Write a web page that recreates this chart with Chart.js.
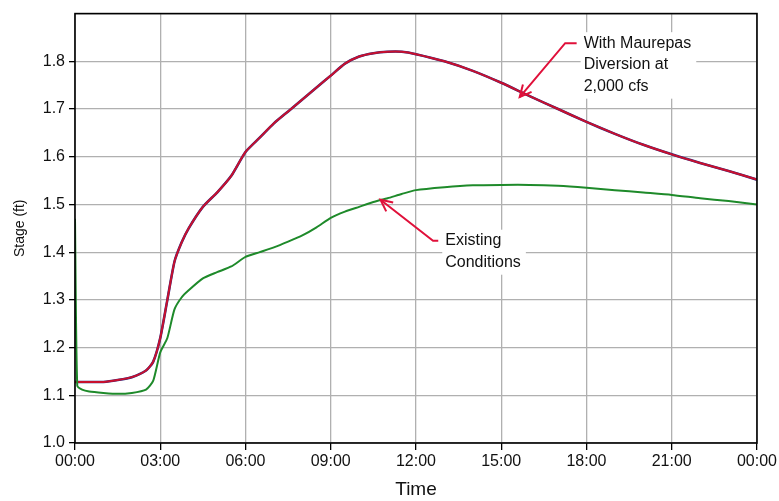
<!DOCTYPE html>
<html>
<head>
<meta charset="utf-8">
<script src="https://cdn.jsdelivr.net/npm/chart.js@4"></script>
<style>
  html, body { margin: 0; padding: 0; background: #fff; }
  #wrap { width: 779px; height: 501px; }
</style>
</head>
<body>
<div id="wrap"><canvas id="stageChart"></canvas></div>
<script>
// hours since 00:00
const hours = [0, 0.08, 0.25, 0.5, 1, 1.5, 2, 2.5, 2.75, 3, 3.25, 3.5, 3.75, 4, 4.5, 5, 5.5, 6, 6.5, 7, 7.5, 8, 8.5, 9, 9.5, 10, 10.5, 11, 11.5, 12, 13, 14, 15, 16, 17, 18, 19, 20, 21, 22, 23, 24];
const withDiversion = [1.128, 1.128, 1.128, 1.128, 1.128, 1.132, 1.138, 1.152, 1.17, 1.22, 1.30, 1.38, 1.42, 1.45, 1.495, 1.525, 1.56, 1.61, 1.64, 1.67, 1.695, 1.72, 1.745, 1.77, 1.795, 1.81, 1.817, 1.82, 1.82, 1.815, 1.80, 1.78, 1.755, 1.727, 1.70, 1.673, 1.648, 1.625, 1.605, 1.587, 1.57, 1.552];
const existing = [1.47, 1.12, 1.112, 1.108, 1.105, 1.103, 1.105, 1.112, 1.13, 1.19, 1.22, 1.28, 1.305, 1.32, 1.345, 1.358, 1.37, 1.39, 1.40, 1.41, 1.422, 1.435, 1.452, 1.472, 1.485, 1.495, 1.505, 1.513, 1.522, 1.53, 1.536, 1.54, 1.541, 1.541, 1.539, 1.535, 1.53, 1.525, 1.52, 1.513, 1.507, 1.50];
const xTicks = ['00:00', '03:00', '06:00', '09:00', '12:00', '15:00', '18:00', '21:00', '00:00'];

function pts(vals) {
    return hours.map((h, i) => ({ x: h, y: vals[i] }));
}

// labels with arrows: text lines, text position (hours, stage), arrow tip
const notes = [
    { lines: ['With Maurepas', 'Diversion at', '2,000 cfs'], at: [17.9, 1.838], elbow: [17.25, 1.838], tip: [15.65, 1.725] },
    { lines: ['Existing', 'Conditions'], at: [13.03, 1.424], elbow: [12.6, 1.424], tip: [10.75, 1.51] },
];

const annotate = {
    id: 'annotate',
    afterDraw(chart) {
        const ctx = chart.ctx;
        const xs = chart.scales.x, ys = chart.scales.y;
        const a = chart.chartArea;
        ctx.save();
        // frame
        ctx.strokeStyle = '#000';
        ctx.lineWidth = 1.6;
        ctx.strokeRect(a.left, a.top, a.right - a.left, a.bottom - a.top);
        ctx.font = '16px "Liberation Sans", Arial, sans-serif';
        ctx.textBaseline = 'middle';
        notes.forEach(n => {
            const tx = xs.getPixelForValue(n.at[0]);
            const ty = ys.getPixelForValue(n.at[1]);
            const lh = 21.5;
            let w = 0;
            n.lines.forEach(l => { w = Math.max(w, ctx.measureText(l).width); });
            ctx.fillStyle = '#fff';
            ctx.fillRect(tx - 3, ty - 11, w + 8, lh * n.lines.length + 2);
            ctx.fillStyle = '#111';
            n.lines.forEach((l, i) => ctx.fillText(l, tx, ty + i * lh));
            // arrow
            const ex = xs.getPixelForValue(n.elbow[0]);
            const px = xs.getPixelForValue(n.tip[0]);
            const py = ys.getPixelForValue(n.tip[1]);
            ctx.strokeStyle = '#e0103a';
            ctx.lineWidth = 2;
            ctx.beginPath();
            ctx.moveTo(tx - 7, ty);
            ctx.lineTo(ex, ty);
            ctx.lineTo(px, py);
            ctx.stroke();
            const ang = Math.atan2(py - ty, px - ex);
            ctx.beginPath();
            ctx.moveTo(px - 13 * Math.cos(ang - 0.45), py - 13 * Math.sin(ang - 0.45));
            ctx.lineTo(px, py);
            ctx.lineTo(px - 13 * Math.cos(ang + 0.45), py - 13 * Math.sin(ang + 0.45));
            ctx.stroke();
        });
        ctx.restore();
    }
};

new Chart(document.getElementById('stageChart'), {
    type: 'line',
    data: {
        datasets: [
            {
                label: 'Existing Conditions',
                data: pts(existing),
                borderColor: '#1e8a2a',
                borderWidth: 2,
                pointRadius: 0,
                tension: 0.2,
                fill: false,
            },
            {
                label: 'With Maurepas Diversion',
                data: pts(withDiversion),
                borderColor: '#c8102e',
                borderWidth: 2,
                pointRadius: 0,
                tension: 0.2,
                fill: false,
            },
            {
                label: 'With Maurepas Diversion (blue)',
                data: pts(withDiversion),
                borderColor: '#2b2a80',
                borderWidth: 2.6,
                pointRadius: 0,
                tension: 0.2,
                fill: false,
            },
        ],
    },
    options: {
        responsive: true,
        maintainAspectRatio: false,
        animation: false,
        layout: { padding: { top: 10, right: 22, left: 0, bottom: 0 } },
        plugins: {
            legend: { display: false },
            tooltip: { enabled: false },
        },
        scales: {
            x: {
                type: 'linear',
                min: 0,
                max: 24,
                afterBuildTicks(scale) {
                    scale.ticks = xTicks.map((t, i) => ({ value: i * 3 }));
                },
                ticks: {
                    callback: (v, i) => xTicks[i],
                    color: '#111',
                    font: { size: 16, family: '"Liberation Sans", Arial, sans-serif' },
                    padding: 2,
                    maxRotation: 0,
                },
                grid: { color: '#b0b0b0', lineWidth: 1.3, tickColor: '#000', tickLength: 7 },
                border: { display: false },
                title: {
                    display: true,
                    text: 'Time',
                    color: '#111',
                    font: { size: 19, family: '"Liberation Sans", Arial, sans-serif' },
                    padding: { top: 2, bottom: 0 },
                },
                afterFit(scale) { scale.height = 58; },
            },
            y: {
                min: 1.0,
                max: 1.9,
                ticks: {
                    stepSize: 0.1,
                    callback: v => (Math.abs(v - 1.9) < 0.001 ? '' : v.toFixed(1)),
                    color: '#111',
                    font: { size: 16, family: '"Liberation Sans", Arial, sans-serif' },
                    padding: 4,
                },
                grid: {
                    color: '#b0b0b0',
                    lineWidth: 1.3,
                    tickColor: ctx => (ctx.tick && Math.abs(ctx.tick.value - 1.9) < 0.001 ? 'rgba(0,0,0,0)' : '#000'),
                    tickLength: 6,
                },
                border: { display: false },
                title: {
                    display: true,
                    text: 'Stage (ft)',
                    color: '#111',
                    font: { size: 14, family: '"Liberation Sans", Arial, sans-serif' },
                    padding: { top: 12, bottom: 0 },
                },
                afterFit(scale) { scale.width = 75; },
            },
        },
    },
    plugins: [annotate],
});
</script>
</body>
</html>
